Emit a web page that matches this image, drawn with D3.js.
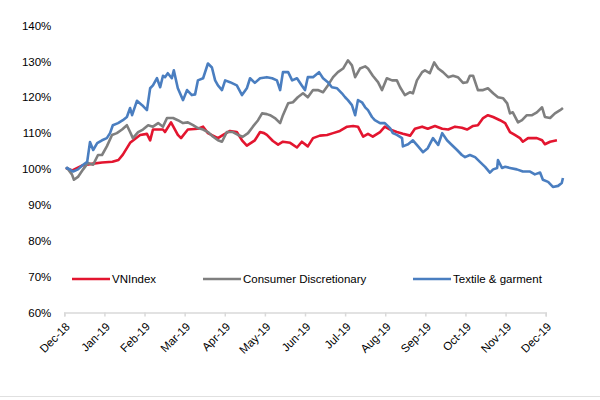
<!DOCTYPE html>
<html>
<head>
<meta charset="utf-8">
<script src="https://cdn.jsdelivr.net/npm/d3@7"></script>
<style>
  body { margin: 0; background: #fff; }
  text { font-family: "Liberation Sans", Arial, sans-serif; }
</style>
</head>
<body>
<svg id="chart" width="600" height="400"></svg>
<script>
// month labels on x axis (tick i = start of month i after Dec-18)
const monthLabels = ["Dec-18", "Jan-19", "Feb-19", "Mar-19", "Apr-19", "May-19", "Jun-19",
  "Jul-19", "Aug-19", "Sep-19", "Oct-19", "Nov-19", "Dec-19"];
const yTicks = [60, 70, 80, 90, 100, 110, 120, 130, 140];

// [months since Dec-18, % of base]
const vnIndex = [[0.04,100.3],[0.2,99.6],[0.45,101],[0.72,101.5],[0.94,101.8],[1.2,102],[1.35,102.5],
  [1.46,104],[1.64,107.3],[1.89,109.5],[2.06,109.8],[2.14,108],[2.21,111],[2.46,111],[2.51,110.3],[2.66,113],
  [2.83,109.5],[2.91,108.6],[3.08,111],[3.33,111.2],[3.46,111.8],[3.58,110],[3.83,108.6],[3.96,109.5],
  [4.13,110.6],[4.30,110.3],[4.43,108],[4.55,106.5],[4.75,108],[4.88,110.3],[4.98,110],[5.05,109.5],
  [5.20,107.8],[5.33,106.8],[5.45,107.6],[5.63,107.3],[5.80,106],[5.92,107.6],[6.07,106.3],[6.20,108.6],
  [6.37,109.3],[6.55,109.5],[6.70,110],[6.87,110.6],[7.05,111.8],[7.20,112],[7.32,111.8],[7.45,109],
  [7.57,109.8],[7.69,109],[7.87,110.3],[7.99,111.8],[8.12,111],[8.29,110.3],[8.44,109.8],[8.62,109.3],
  [8.74,111.2],[8.92,111.8],[9.06,111.2],[9.24,112],[9.42,111.2],[9.57,111],[9.74,111.8],[9.91,111.5],
  [10.04,111],[10.19,112],[10.31,112.2],[10.44,114.2],[10.56,115],[10.69,114.5],[10.86,113.6],[10.99,112.8],
  [11.11,110.3],[11.23,109.5],[11.36,108.6],[11.43,107.6],[11.56,108.6],[11.78,108.6],[11.91,108],
  [11.98,106.9],[12.11,107.6],[12.28,108]];

const consumerDisc = [[0.04,100],[0.07,100.3],[0.19,98.5],[0.24,97],[0.34,97.8],[0.47,99.9],[0.59,101.7],
  [0.72,101.2],[0.84,103.9],[0.94,103.9],[1.06,106.3],[1.19,109.5],[1.31,110],[1.44,111],[1.56,112.2],
  [1.64,110.3],[1.71,108.6],[1.84,110.3],[1.96,111],[2.09,112.2],[2.21,111.8],[2.34,112.8],[2.46,111.8],
  [2.56,114.2],[2.71,114.2],[2.83,113.6],[2.96,112.8],[3.08,113],[3.21,112.2],[3.33,111.4],[3.46,111],
  [3.58,110.3],[3.71,109],[3.83,108],[3.93,107.6],[4.05,110.3],[4.20,110.3],[4.33,109.5],[4.45,109],
  [4.58,110],[4.70,111.8],[4.83,113.6],[4.93,115.5],[5.05,115.3],[5.13,115],[5.25,114.2],[5.38,112.8],
  [5.45,115],[5.58,118.3],[5.70,118.6],[5.82,120],[5.95,121.1],[6.07,120],[6.20,122],[6.32,122],
  [6.45,121.4],[6.57,123.3],[6.70,125.6],[6.82,127],[6.95,128],[7.07,130.3],[7.17,128.9],[7.25,125.6],
  [7.37,128],[7.50,128.6],[7.57,128],[7.69,126],[7.82,124.2],[7.92,122],[8.04,125.3],[8.17,124.7],
  [8.29,124.7],[8.37,122.8],[8.49,120.6],[8.62,121.4],[8.69,121.1],[8.79,124.7],[8.92,127],[8.99,127.5],
  [9.11,126.7],[9.22,129.7],[9.32,128],[9.44,127],[9.57,125.6],[9.69,126],[9.81,125.6],[9.94,124],
  [10.04,124.2],[10.11,126],[10.19,126],[10.31,122],[10.44,122],[10.56,122.5],[10.69,121.1],[10.81,120],
  [10.94,119.7],[11.04,118.3],[11.11,115.5],[11.18,115.8],[11.31,113],[11.41,113.6],[11.53,115],
  [11.66,115],[11.78,115.8],[11.91,117.2],[11.98,114.5],[12.11,114.2],[12.23,115.5],[12.36,116.4],[12.43,117]];

const textile = [[0.04,100],[0.07,100.3],[0.22,99.3],[0.34,99.9],[0.47,101.2],[0.57,102],[0.64,107.5],
  [0.72,105.3],[0.82,107.2],[0.94,108],[1.06,108.6],[1.14,110],[1.21,112.2],[1.34,112.8],[1.46,113.6],
  [1.56,114.5],[1.64,117],[1.69,115],[1.81,119],[1.94,117.8],[2.06,116.4],[2.14,122.5],[2.21,123.3],
  [2.31,125.3],[2.39,122.8],[2.46,126],[2.51,125.6],[2.58,126.7],[2.68,125.3],[2.73,127.5],[2.83,122.5],
  [2.96,119.2],[3.06,122],[3.18,120.6],[3.26,120.8],[3.33,124.7],[3.46,125.3],[3.58,129.4],[3.68,128.3],
  [3.76,124.7],[3.83,123.3],[3.93,122],[4.01,124.7],[4.13,124.2],[4.30,123.3],[4.43,120.6],[4.55,122.5],
  [4.63,125.3],[4.75,124],[4.88,125.3],[5.05,125.6],[5.18,125.3],[5.30,124.7],[5.38,122],[5.45,127],
  [5.58,127],[5.68,124.7],[5.80,125.3],[5.92,123.3],[6.00,122],[6.07,125.6],[6.20,125.6],[6.35,127],
  [6.45,125.3],[6.57,124.2],[6.67,122.8],[6.80,122.5],[6.92,121.1],[7.00,120],[7.07,119.2],[7.17,117.8],
  [7.25,115],[7.32,119.2],[7.42,118.6],[7.50,117.2],[7.57,116.4],[7.67,114.5],[7.74,113.6],[7.87,112.8],
  [7.99,112.8],[8.12,111.4],[8.19,110],[8.29,109.5],[8.42,108.6],[8.44,106.3],[8.57,106.9],[8.69,108],
  [8.82,106.3],[8.94,104.7],[9.06,105.8],[9.19,108.6],[9.32,106.7],[9.42,110],[9.54,108],[9.66,106.7],
  [9.79,105.3],[9.91,103.9],[9.99,103.3],[10.11,103.9],[10.24,103.3],[10.36,102],[10.49,100.6],[10.61,99],
  [10.69,99.9],[10.79,100.3],[10.81,102.5],[10.91,100.3],[10.99,100.6],[11.11,100.3],[11.28,99.9],
  [11.43,99.3],[11.61,99.3],[11.73,98.5],[11.86,99],[11.93,97],[12.06,96.4],[12.18,95],[12.31,95.3],
  [12.40,96.1],[12.43,97.5]];

const seriesNames = ["VNIndex", "Consumer Discretionary", "Textile & garment"];
const seriesColors = ["#e3152f", "#7f7f7f", "#4a7ec0"];

// setup chart dimensions
const margin = { top: 25.5, left: 64.3 };
const width = 481.4;
const height = 287;

const svg = d3.select("#chart");
const g = svg.append("g").attr("transform", `translate(${margin.left},${margin.top})`);

const x = d3.scaleLinear().domain([0, 12]).range([0, width]);
const y = d3.scaleLinear().domain([60, 140]).range([height, 0]);

// y axis, labels only
g.append("g")
  .call(d3.axisLeft(y).tickValues(yTicks).tickSize(0).tickPadding(13).tickFormat(d => d + "%"))
  .call(a => a.select(".domain").remove())
  .selectAll("text")
  .attr("fill", "#000")
  .style("font-size", "11.5px");

// x axis with rotated month labels
const xAxis = g.append("g")
  .attr("transform", `translate(0,${height})`)
  .call(d3.axisBottom(x).tickValues(d3.range(13)).tickSize(4).tickFormat(i => monthLabels[i]));
xAxis.select(".domain").attr("stroke", "#d9d9d9").attr("stroke-width", 1.5);
xAxis.selectAll(".tick line").attr("stroke", "#d9d9d9").attr("stroke-width", 1.5);
xAxis.selectAll("text")
  .attr("x", 0).attr("y", 0).attr("dy", "0.35em")
  .attr("transform", "translate(3,12) rotate(-45)")
  .attr("text-anchor", "end")
  .attr("fill", "#000")
  .style("font-size", "11.5px");

// lines
const line = d3.line().x(d => x(d[0])).y(d => y(d[1]));
[vnIndex, consumerDisc, textile].forEach((s, i) => {
  g.append("path")
    .datum(s)
    .attr("fill", "none")
    .attr("stroke", seriesColors[i])
    .attr("stroke-width", 2.6)
    .attr("stroke-linejoin", "round")
    .attr("d", line);
});

// legend
const legendX = [72, 203, 413];
const legend = svg.append("g").attr("transform", "translate(0,279)");
seriesNames.forEach((name, i) => {
  legend.append("line")
    .attr("x1", legendX[i]).attr("x2", legendX[i] + 38)
    .attr("stroke", seriesColors[i]).attr("stroke-width", 2.6);
  legend.append("text")
    .attr("x", legendX[i] + 40).attr("dy", "0.35em")
    .attr("fill", "#000")
    .style("font-size", "11.5px")
    .text(name);
});

// faint bottom border
svg.append("line")
  .attr("x1", 0).attr("x2", 600).attr("y1", 396.5).attr("y2", 396.5)
  .attr("stroke", "#e0e0e0");
</script>
</body>
</html>
